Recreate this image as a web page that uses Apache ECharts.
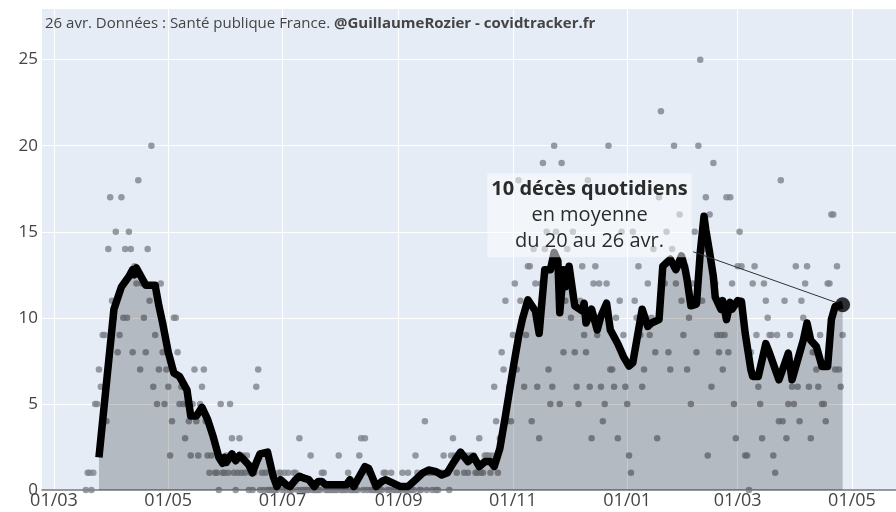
<!DOCTYPE html>
<html>
<head>
<meta charset="utf-8">
<script src="https://cdn.jsdelivr.net/npm/echarts@6/dist/echarts.min.js"></script>
<style>
html,body{margin:0;padding:0;background:#fff}
#chart{width:896px;height:512px}
</style>
</head>
<body>
<div id="chart"></div>
<script>
// jours comptés depuis le 01/03/2020
const ORIGIN = Date.UTC(2020, 2, 1);
const DAY = 86400000;
const toTime = d => ORIGIN + d * DAY;

// décès quotidiens, à partir du 18 mars 2020 (jour 17)
const dailyStart = 17;
const dailyDeaths = [
  0,1,1,0,1,5,5,7,6,9,9,4,14,17,                                   // mars
  11,10,15,8,9,17,10,14,10,15,14,8,13,12,18,7,12,10,8,14,11,20,6,9,5,7,12,8,5,7,   // avril
  6,2,4,10,10,8,5,6,5,3,5,4,2,5,7,4,2,5,6,7,4,2,1,2,3,1,1,0,5,1,1,  // mai
  2,1,5,3,1,0,1,3,1,2,1,2,0,1,0,1,6,7,0,1,0,1,0,0,0,0,0,0,1,1,      // juin
  0,1,0,1,0,0,1,1,0,3,0,0,0,0,0,2,0,0,0,0,0,1,1,0,0,0,0,0,0,0,2,    // juillet
  0,0,0,0,1,0,0,0,0,0,2,3,0,3,0,1,0,0,0,0,0,0,0,1,1,0,0,1,0,0,0,    // août
  0,0,1,0,0,1,0,0,0,2,1,0,0,1,4,0,1,1,0,1,0,0,1,1,2,1,1,0,2,3,      // septembre
  2,1,2,2,2,1,2,1,2,2,2,1,1,3,1,1,2,2,2,1,2,6,4,1,3,8,7,11,4,6,4,   // octobre
  9,12,7,18,11,10,6,9,13,13,4,14,12,6,3,12,19,14,15,7,5,6,20,15,13,5,19,8,11,14, // novembre
  13,10,15,8,6,5,11,13,9,8,18,6,3,12,13,9,12,6,4,5,12,20,7,7,6,10,3,11,15,9,6,   // décembre
  5,2,1,15,11,10,13,9,6,7,10,12,9,10,14,8,3,17,22,13,12,15,8,7,14,20,12,13,16,11,9, // janvier
  13,7,10,5,12,15,8,20,25,11,14,17,2,16,6,19,12,9,8,9,7,9,17,8,17,12,5,3,        // février
  13,15,13,10,2,2,0,8,12,13,9,6,5,3,12,11,10,9,9,2,1,9,4,18,4,11,3,5,9,6,5,      // mars
  13,6,4,11,10,12,13,6,3,8,8,7,6,9,5,5,4,12,12,16,16,7,13,7,6,9                  // avril
];

// moyenne glissante sur 7 jours (sommets relevés)
const avgDays = [
  24,32,36,40,42,43,44,45,47,49,54,56,58,61,64,67,71,73,76,79,82,85,88,90,91,92,95,97,99,101,
  104,106,108,110,114,117,119,121,124,126,129,131,133,136,139,141,143,145,156,158,160,166,168,172,175,177,181,185,189,193,
  197,200,204,207,210,213,217,221,224,227,230,233,235,238,241,245,248,250,253,257,259,262,265,267,269,270,272,273,275,276,
  278,282,283,284,287,290,292,295,297,301,304,307,309,314,317,319,323,325,329,332,335,337,338,340,343,345,347,348,350,352,
  353,356,357,359,361,362,365,367,369,372,373,376,380,382,387,389,392,394,397,400,402,404,407,410,413,415,417,421
];
const avgValues = [
  1.9,10.5,11.8,12.4,12.8,12.5,12.9,12.8,12.3,11.9,11.9,10.7,9.7,8.0,6.8,6.6,5.8,4.3,4.3,4.8,4.1,3.1,1.9,1.55,1.9,1.6,2.1,1.7,2.0,1.8,
  1.45,1.0,1.6,2.1,2.2,0.8,0.2,0.6,0.3,0.2,0.6,0.8,0.7,0.6,0.2,0.5,0.5,0.3,0.3,0.6,0.2,1.36,1.26,0.2,0.5,0.6,0.4,0.2,0.2,0.6,
  1.0,1.16,1.07,0.87,1.0,1.55,2.2,1.65,1.94,1.36,1.65,1.65,1.36,2.4,4.3,7.0,8.9,9.9,11.05,10.4,9.1,12.8,12.8,13.8,13.3,10.3,12.8,11.8,13.0,12.9,
  10.7,10.4,10.85,9.7,10.5,9.3,10.1,10.85,9.3,8.5,7.75,7.2,7.4,10.5,9.5,9.7,9.9,13.0,13.4,12.8,13.6,12.8,12.2,10.7,10.8,13.8,15.9,15.1,13.8,12.4,
  11.2,10.5,11.0,9.9,10.9,10.5,11.0,10.95,9.1,7.0,6.6,6.6,8.5,7.95,6.4,7.0,7.95,6.4,7.56,8.7,9.7,8.7,8.33,7.17,7.17,9.9,10.66,10.76
];

const xTickDates = ['2020-03-01','2020-05-01','2020-07-01','2020-09-01','2020-11-01','2021-01-01','2021-03-01','2021-05-01'];
const xTickLabels = ['01/03','01/05','01/07','01/09','01/11','01/01','01/03','01/05'];
const yTicks = [0, 5, 10, 15, 20, 25];

const xTickTimes = xTickDates.map(d => Date.parse(d));
const FONT = '"Open Sans", "Noto Sans", sans-serif';

const scatterData = dailyDeaths.map((v, i) => [toTime(dailyStart + i), v]);
const avgData = avgDays.map((d, i) => [toTime(d), avgValues[i]]);
const lastPoint = avgData[avgData.length - 1];

const chart = echarts.init(document.getElementById('chart'), null, {renderer: 'canvas'});
chart.setOption({
  animation: false,
  backgroundColor: '#ffffff',
  title: {
    left: 45, top: 16, padding: 0,
    text: '{n|26 avr. Données : Santé publique France. }{b|@GuillaumeRozier - covidtracker.fr}',
    textStyle: {
      fontWeight: 'normal',
      rich: {
        n: {fontSize: 15, color: '#444', fontFamily: FONT, fontWeight: 'normal'},
        b: {fontSize: 15, color: '#444', fontFamily: FONT, fontWeight: 'bold'}
      }
    }
  },
  grid: {
    left: 42, right: 0, top: 8, bottom: 22,
    show: true, backgroundColor: '#e5ecf6', borderWidth: 0,
    containLabel: false, outerBoundsMode: 'none'
  },
  xAxis: {
    type: 'value',
    min: toTime(-6.4), max: toTime(449.5),
    axisLine: {show: true, onZero: false, lineStyle: {color: '#7a7a7a', width: 1.5}},
    axisTick: {show: false, customValues: xTickTimes},
    splitLine: {show: true, customValues: xTickTimes, lineStyle: {color: '#ffffff', width: 1}},
    axisLabel: {
      customValues: xTickTimes,
      margin: 2,
      fontSize: 18, color: '#444', fontFamily: FONT,
      formatter: v => xTickLabels[xTickTimes.indexOf(v)] || ''
    }
  },
  yAxis: {
    type: 'value', min: 0, max: 28, interval: 5,
    axisLine: {show: false}, axisTick: {show: false},
    splitLine: {show: true, lineStyle: {color: '#ffffff', width: 1}},
    axisLabel: {
      customValues: yTicks,
      margin: 4, fontSize: 17, color: '#444', fontFamily: FONT
    }
  },
  series: [
    {
      name: 'quotidien', type: 'scatter', data: scatterData,
      symbolSize: 6.5, silent: true, z: 1,
      itemStyle: {color: '#7e828a'}
    },
    {
      name: 'moyenne', type: 'line', data: avgData,
      showSymbol: false, silent: true, z: 2,
      lineStyle: {color: '#000', width: 7.5, join: 'round', cap: 'butt'},
      areaStyle: {color: 'rgba(0,0,0,0.3)'},
      markLine: {
        silent: true, symbol: ['none', 'none'], z: 3,
        lineStyle: {color: '#333', width: 1, type: 'solid'},
        label: {show: false},
        data: [[{coord: [toTime(341.2), 13.84]}, {coord: lastPoint}]]
      },
      markPoint: {
        silent: true, z: 5,
        data: [{
          coord: [toTime(285.9), 15.96],
          symbol: 'rect', symbolSize: 1,
          itemStyle: {color: 'rgba(0,0,0,0)'},
          label: {
            show: true, position: 'inside',
            backgroundColor: 'rgba(255,255,255,0.5)',
            padding: [3, 4],
            formatter: '{b|10 décès quotidiens}\n{n|en moyenne}\n{n|du 20 au 26 avr.}',
            rich: {
              b: {fontSize: 20, fontWeight: 'bold', color: '#2b2b2b', fontFamily: FONT, lineHeight: 26, align: 'center'},
              n: {fontSize: 20, color: '#2b2b2b', fontFamily: FONT, lineHeight: 26, align: 'center'}
            }
          }
        }]
      }
    },
    {
      name: 'dernier', type: 'scatter', data: [lastPoint],
      symbolSize: 15, silent: true, z: 4,
      itemStyle: {color: '#000'}
    }
  ]
});
</script>
</body>
</html>
